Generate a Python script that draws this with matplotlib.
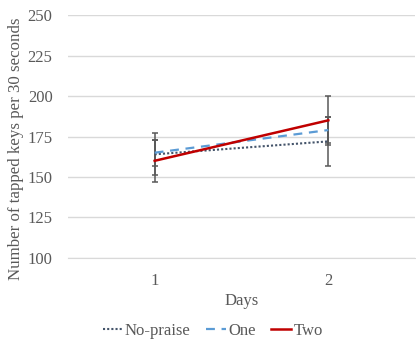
import numpy as np
import matplotlib.pyplot as plt
from matplotlib.lines import Line2D

plt.rcParams['font.family'] = ['Liberation Serif', 'DejaVu Serif']

days = [1, 2]
day_labels = ['1', '2']
series = ['No-praise', 'One', 'Two']
means = {
    'No-praise': [164, 172],
    'One': [165, 179],
    'Two': [160, 185],
}
errs = {
    'No-praise': [13, 15],
    'One': [8, 8],
    'Two': [13, 15],
}
colors = {'No-praise': '#44546A', 'One': '#5B9BD5', 'Two': '#C00000'}
styles = {'No-praise': (0, (1, 1)), 'One': (0, (4, 3)), 'Two': '-'}
widths = {'No-praise': 1.5, 'One': 1.6, 'Two': 1.8}

txt = '#595959'
fig = plt.figure(figsize=(4.16, 3.43), dpi=100)
ax = fig.add_axes([0.163, 0.248, 0.835, 0.708])

handles = []
for s in series:
    ax.errorbar(days, means[s], yerr=errs[s], color=colors[s], linestyle=styles[s],
                linewidth=widths[s], ecolor='#595959', elinewidth=1.1,
                capsize=2, capthick=1.1, zorder=3)
    handles.append(Line2D([], [], color=colors[s], linestyle=styles[s],
                          linewidth=widths[s], label=s))

ax.set_xlim(0.5, 2.5)
ax.set_ylim(100, 250)
ax.set_yticks(np.arange(100, 251, 25))
ax.set_xticks(days)
ax.set_xticklabels(day_labels)
ax.grid(axis='y', color='#D9D9D9', linewidth=1)
ax.set_axisbelow(True)
for sp in ['top', 'right', 'left']:
    ax.spines[sp].set_visible(False)
ax.spines['bottom'].set_color('#D9D9D9')
ax.tick_params(length=0, labelsize=12, colors=txt)
ax.tick_params(axis='y', pad=11)
ax.tick_params(axis='x', pad=11)
ax.set_xlabel('Days', fontsize=12, color=txt, labelpad=3)
ax.set_ylabel('Number of tapped keys per 30 seconds', fontsize=12.2, color=txt)
ax.yaxis.set_label_coords(-0.125, 0.45)

leg = fig.legend(handles=handles, loc='center', bbox_to_anchor=(0.511, 0.035), ncol=3,
                 frameon=False, fontsize=12, handlelength=1.2, columnspacing=0.9,
                 handletextpad=0.15)
for t in leg.get_texts():
    t.set_color(txt)

fig.savefig('out.png', dpi=100)
